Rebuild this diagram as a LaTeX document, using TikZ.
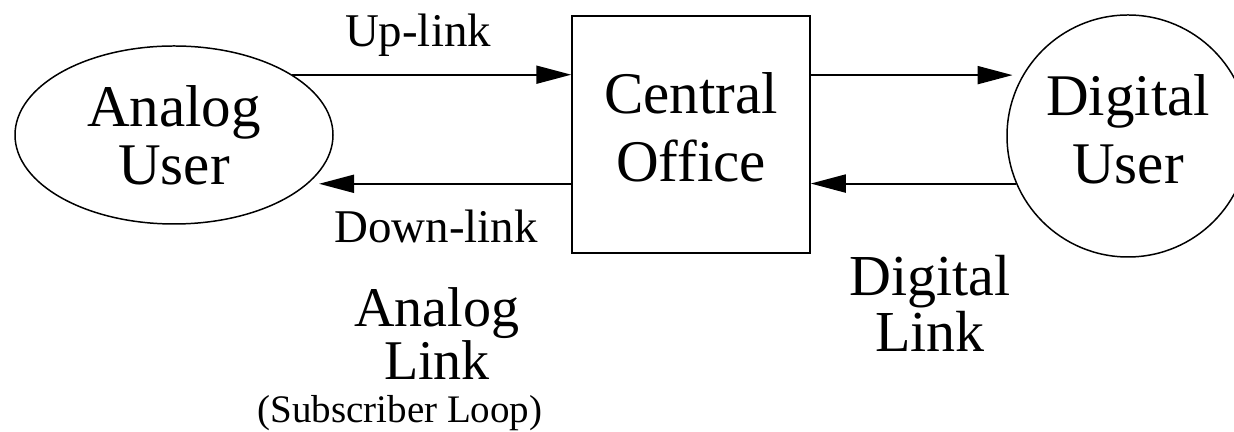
\documentclass[tikz,border=0pt]{standalone}
\usepackage{fontspec}
\setmainfont{Liberation Serif}
\usetikzlibrary{shapes.geometric,arrows.meta}

\begin{document}
\begin{tikzpicture}[
    link/.style={-{Triangle[length=0.7cm,width=0.36cm]}, line width=1.1pt},
    bigtxt/.style={font=\fontsize{33.6}{38.7}\selectfont, align=center, inner sep=0pt},
    lbltxt/.style={font=\fontsize{26.7}{30}\selectfont, anchor=base, inner sep=0pt}]

   \clip (0,0) rectangle (24.68,8.64);

   % users and the office
   \node[bigtxt, ellipse, draw, line width=0.85pt, minimum width=6.36cm, minimum height=3.56cm,
         font=\fontsize{33.6}{33}\selectfont] (au) at (3.48,5.94) {Analog\\User};
   \node[bigtxt, rectangle, draw, line width=0.85pt, minimum width=4.76cm, minimum height=4.74cm,
         text depth=0.28cm] (co) at (13.82,5.95) {Central\\Office};
   \node[bigtxt, circle, draw, line width=0.85pt, minimum size=4.84cm, text depth=0.28cm] (du) at (22.56,5.92) {Digital\\User};

   % links
   \draw[link] (au.27) -- (au.27 -| co.west);
   \draw[link, shorten >=0.22cm] (au.-20 -| co.west) -- (au.-20);
   \draw[link, shorten >=0.2cm] (du.150 -| co.east) -- (du.150);
   \draw[link] (du.203) -- (du.203 -| co.east);

   \node[lbltxt] (up) at (8.36,7.70) {Up-link};
   \node[lbltxt] (down) at (8.72,3.78) {Down-link};

   \node[anchor=base, align=center, inner sep=0pt, font=\fontsize{31.9}{30.2}\selectfont] (alink) at (8.74,1.04) {Analog\\Link};
   \node[anchor=base, inner sep=0pt, font=\fontsize{22.2}{24}\selectfont] (loop) at (8.0,0.18) {(Subscriber Loop)};
   \node[anchor=base, align=center, inner sep=0pt, font=\fontsize{33}{32.4}\selectfont] (dlink) at (18.6,1.60) {Digital\\Link};

\end{tikzpicture}
\end{document}
